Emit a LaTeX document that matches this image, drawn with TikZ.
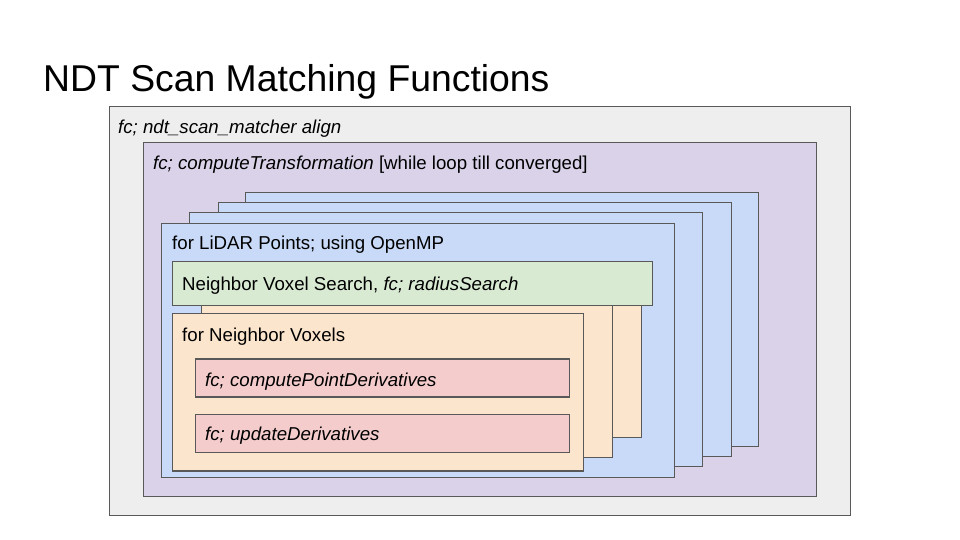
\documentclass[tikz,border=0pt]{standalone}
\usepackage{fontspec}
\setmainfont{Liberation Sans}
\definecolor{bordergray}{HTML}{595959}
\definecolor{cgrey}{HTML}{EEEEEE}
\definecolor{cpurple}{HTML}{D9D2E9}
\definecolor{cblue}{HTML}{C9DAF8}
\definecolor{cgreen}{HTML}{D9EAD3}
\definecolor{corange}{HTML}{FCE5CD}
\definecolor{cred}{HTML}{F4CCCC}
\tikzset{
  box/.style={draw=bordergray, line width=1.1pt, anchor=north west, inner sep=0pt, outer sep=0pt},
  lbl/.style={anchor=base west, inner sep=0pt, font=\fontsize{18.67}{22}\selectfont, text=black},
  ttl/.style={anchor=base west, inner sep=0pt, font=\fontsize{37.33}{44}\selectfont, text=black},
}
\newcommand\bx[6]{\node[box,fill=#2,minimum width=#5pt,minimum height=#6pt] (#1) at (#3,#4) {};}
\begin{document}
\begin{tikzpicture}[x=1pt,y=-1pt]
\useasboundingbox[fill=white] (0,0) rectangle (960,540);
\node[ttl] (title) at (43,92) {NDT Scan Matching Functions};
\bx{grey}{cgrey}{109.3}{106.7}{741}{408.6}
\node[lbl] (lgrey) at (118,133.5) {\itshape fc; ndt\_scan\_matcher align};
\bx{purple}{cpurple}{143.3}{142.7}{673}{353.6}
\node[lbl] (lpurple) at (153,170) {\itshape fc; computeTransformation\upshape{} [while loop till converged]};
\bx{blue4}{cblue}{245.3}{192.3}{513}{254}
\bx{blue3}{cblue}{218.3}{202.3}{513.4}{254}
\bx{blue2}{cblue}{189.3}{212.5}{513.4}{253.8}
\bx{blue1}{cblue}{161.3}{223.3}{513}{254}
\node[lbl] (lblue) at (172,249) {for LiDAR Points; using OpenMP};
\bx{orange3}{corange}{230.3}{279.6}{411}{157.7}
\bx{orange2}{corange}{201.3}{299.6}{411}{157.7}
\bx{orange1}{corange}{172.3}{313.3}{411}{157.7}
\node[lbl] (lorange) at (182,341) {for Neighbor Voxels};
\bx{green}{cgreen}{172.3}{261.3}{480}{44}
\node[lbl] (lgreen) at (182,290.5) {Neighbor Voxel Search, \itshape fc; radiusSearch};
\bx{red1}{cred}{195.3}{359}{374}{38}
\node[lbl] (lred1) at (205,386) {\itshape fc; computePointDerivatives};
\bx{red2}{cred}{195.3}{414.3}{374}{38}
\node[lbl] (lred2) at (205,440) {\itshape fc; updateDerivatives};
\end{tikzpicture}
\end{document}
